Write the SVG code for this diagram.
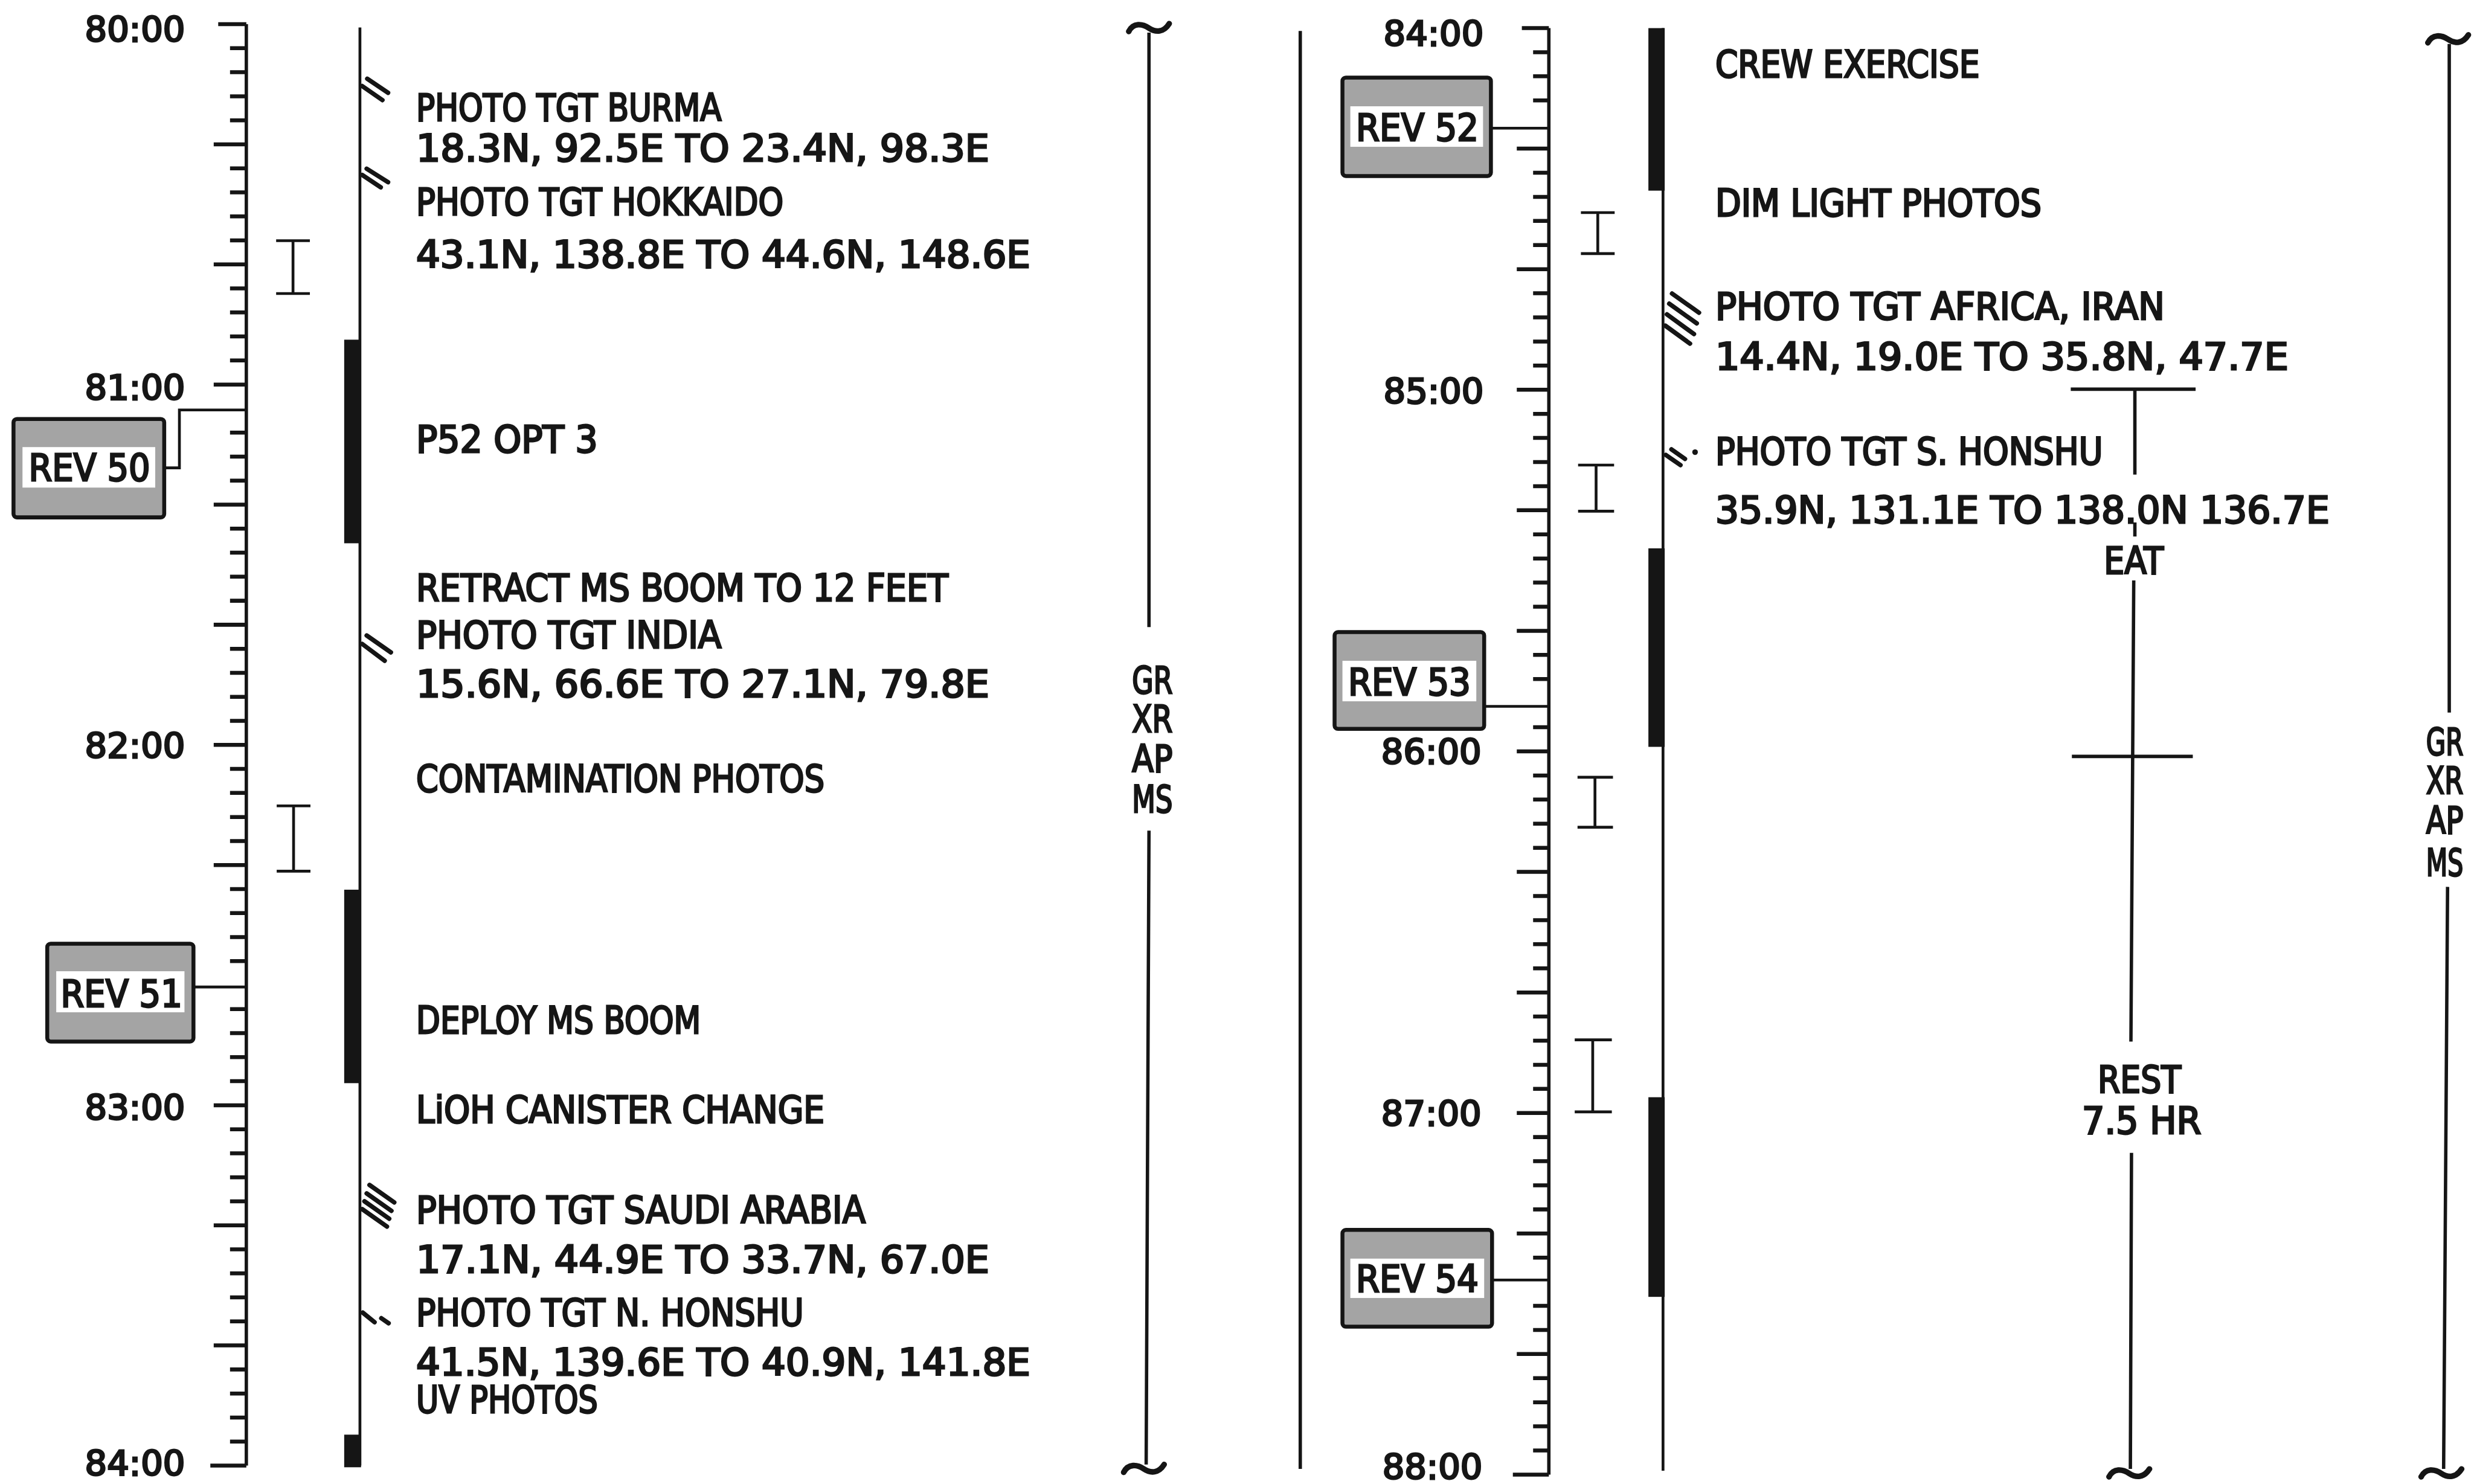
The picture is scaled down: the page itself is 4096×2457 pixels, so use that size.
<svg xmlns="http://www.w3.org/2000/svg" width="4096" height="2457" viewBox="0 0 4096 2457">
<defs>
<style>
.ln{stroke:#151515;fill:none;stroke-width:6}
.thin{stroke:#151515;fill:none;stroke-width:5}
.tk{stroke:#151515;fill:none;stroke-width:7}
.bar{fill:#151515}
.ht{stroke:#151515;stroke-width:8;stroke-linecap:round;fill:none}
.t{font-family:"DejaVu Sans Condensed","DejaVu Sans","Liberation Sans",sans-serif;font-stretch:condensed;font-weight:normal;font-size:66px;fill:#161616;stroke:#161616;stroke-width:3}
.tm{font-size:62px}
.box{fill:#a4a4a4;stroke:#151515;stroke-width:7}
.band{fill:#ffffff}
.tl{stroke:#151515;stroke-width:10;stroke-linecap:round;fill:none}
</style>
<path id="tilde" d="M-36,6 C-28,-10 -12,-8 0,0 C12,8 26,8 36,-8"/>
</defs>
<rect width="4096" height="2457" fill="#ffffff"/>
<g transform="scale(0.931121)">

<!-- LEFT PANEL -->
<g id="left-time-axis">
<path class="ln" d="M438,43V2606"/>
<path class="tk" d="M388,43H438 M409,85.7H438 M409,128.4H438 M409,171.2H438 M409,213.9H438 M380,256.6H438 M409,299.3H438 M409,342H438 M409,384.7H438 M409,427.5H438 M380,470.2H438 M409,512.9H438 M409,555.6H438 M409,598.3H438 M409,641H438 M380,683.8H438 M409,769.2H438 M409,811.9H438 M409,854.6H438 M380,897.3H438 M409,940.1H438 M409,982.8H438 M409,1025.5H438 M409,1068.2H438 M380,1110.9H438 M409,1153.6H438 M409,1196.4H438 M409,1239.1H438 M409,1281.8H438 M380,1324.5H438 M409,1367.2H438 M409,1409.9H438 M409,1452.7H438 M409,1495.4H438 M380,1538.1H438 M409,1580.8H438 M409,1623.5H438 M409,1666.2H438 M409,1709H438 M409,1794.4H438 M409,1837.1H438 M409,1879.8H438 M409,1922.5H438 M380,1965.3H438 M409,2008H438 M409,2050.7H438 M409,2093.4H438 M409,2136.1H438 M380,2178.8H438 M409,2221.6H438 M409,2264.3H438 M409,2307H438 M409,2349.7H438 M380,2392.4H438 M409,2435.1H438 M409,2477.9H438 M409,2520.6H438 M409,2563.3H438 M374,2606H438"/>
<text class="t tm" x="329" y="74" text-anchor="end" textLength="178" lengthAdjust="spacingAndGlyphs">80:00</text>
<text class="t tm" x="329" y="711" text-anchor="end" textLength="178" lengthAdjust="spacingAndGlyphs">81:00</text>
<text class="t tm" x="329" y="1348" text-anchor="end" textLength="178" lengthAdjust="spacingAndGlyphs">82:00</text>
<text class="t tm" x="329" y="1991" text-anchor="end" textLength="178" lengthAdjust="spacingAndGlyphs">83:00</text>
<text class="t tm" x="329" y="2624" text-anchor="end" textLength="178" lengthAdjust="spacingAndGlyphs">84:00</text>
</g>

<g id="rev50">
<rect class="box" x="24" y="745" width="268" height="175" rx="6"/>
<rect class="band" x="40" y="795" width="236" height="72"/>
<text class="t" x="159" y="855" text-anchor="middle" textLength="216" lengthAdjust="spacingAndGlyphs">REV 50</text>
</g>
<g id="rev51">
<rect class="box" x="84" y="1678" width="260" height="174" rx="6"/>
<rect class="band" x="100" y="1727" width="228" height="73"/>
<text class="t" x="216" y="1790" text-anchor="middle" textLength="216" lengthAdjust="spacingAndGlyphs">REV 51</text>
</g>

<g id="left-rest-marks">
<path class="thin" d="M491,428H551 M521,428V522 M491,522H551"/>
<path class="thin" d="M492,1433H552 M522,1433V1549 M492,1549H552"/>
</g>

<g id="left-activity-line">
<path class="thin" d="M640,49V2606"/>
<rect class="bar" x="612" y="604" width="30" height="362"/>
<rect class="bar" x="612" y="1582" width="30" height="344"/>
<rect class="bar" x="612" y="2551" width="30" height="58"/>
<path class="ht" d="M653,140L690,165 M644,153L680,178"/>
<path class="ht" d="M652,300L690,324 M644,311L677,333"/>
<path class="ht" d="M652,1130L695,1160 M644,1145L684,1175"/>
<path class="ht" d="M657,2107L701,2138 M652,2122L696,2153 M648,2136L692,2167 M644,2150L688,2181"/>
<path class="ht" d="M645,2334L666,2351 M678,2344L691,2353"/>
</g>

<g id="left-labels">
<text class="t" x="740" y="215" textLength="543" lengthAdjust="spacingAndGlyphs">PHOTO TGT BURMA</text>
<text class="t" x="740" y="287" textLength="1019" lengthAdjust="spacingAndGlyphs">18.3N, 92.5E TO 23.4N, 98.3E</text>
<text class="t" x="740" y="382" textLength="653" lengthAdjust="spacingAndGlyphs">PHOTO TGT HOKKAIDO</text>
<text class="t" x="740" y="476" textLength="1092" lengthAdjust="spacingAndGlyphs">43.1N, 138.8E TO 44.6N, 148.6E</text>
<text class="t" x="740" y="804" textLength="323" lengthAdjust="spacingAndGlyphs">P52 OPT 3</text>
<text class="t" x="740" y="1069" textLength="946" lengthAdjust="spacingAndGlyphs">RETRACT MS BOOM TO 12 FEET</text>
<text class="t" x="740" y="1152" textLength="543" lengthAdjust="spacingAndGlyphs">PHOTO TGT INDIA</text>
<text class="t" x="740" y="1239" textLength="1019" lengthAdjust="spacingAndGlyphs">15.6N, 66.6E TO 27.1N, 79.8E</text>
<text class="t" x="740" y="1408" textLength="726" lengthAdjust="spacingAndGlyphs">CONTAMINATION PHOTOS</text>
<text class="t" x="740" y="1838" textLength="506" lengthAdjust="spacingAndGlyphs">DEPLOY MS BOOM</text>
<text class="t" x="740" y="1996" textLength="726" lengthAdjust="spacingAndGlyphs">LiOH CANISTER CHANGE</text>
<text class="t" x="740" y="2175" textLength="799" lengthAdjust="spacingAndGlyphs">PHOTO TGT SAUDI ARABIA</text>
<text class="t" x="740" y="2263" textLength="1019" lengthAdjust="spacingAndGlyphs">17.1N, 44.9E TO 33.7N, 67.0E</text>
<text class="t" x="740" y="2357" textLength="689" lengthAdjust="spacingAndGlyphs">PHOTO TGT N. HONSHU</text>
<text class="t" x="740" y="2445" textLength="1092" lengthAdjust="spacingAndGlyphs">41.5N, 139.6E TO 40.9N, 141.8E</text>
<text class="t" x="740" y="2512" textLength="323" lengthAdjust="spacingAndGlyphs">UV PHOTOS</text>
</g>

<g id="left-bracket">
<use href="#tilde" class="tl" transform="translate(2043,50)"/>
<path class="ln" d="M2043,58V1115 M2043,1477L2038,2604"/>
<use href="#tilde" class="tl" transform="translate(2034,2612)"/>
<text class="t" x="2049" y="1233" text-anchor="middle" textLength="72" lengthAdjust="spacingAndGlyphs">GR</text>
<text class="t" x="2049" y="1302" text-anchor="middle" textLength="72" lengthAdjust="spacingAndGlyphs">XR</text>
<text class="t" x="2049" y="1373" text-anchor="middle" textLength="72" lengthAdjust="spacingAndGlyphs">AP</text>
<text class="t" x="2049" y="1445" text-anchor="middle" textLength="72" lengthAdjust="spacingAndGlyphs">MS</text>
</g>

<g id="separator">
<path class="ln" d="M2312,55V2612"/>
</g>

<!-- RIGHT PANEL -->
<g id="right-time-axis">
<path class="ln" d="M2754,50V2622"/>
<path class="tk" d="M2706,50H2754 M2726,92.9H2754 M2726,135.7H2754 M2726,178.6H2754 M2697,264.3H2754 M2726,307.2H2754 M2726,350.1H2754 M2726,392.9H2754 M2726,435.8H2754 M2697,478.7H2754 M2726,521.5H2754 M2726,564.4H2754 M2726,607.3H2754 M2726,650.1H2754 M2697,693H2754 M2726,735.9H2754 M2726,778.7H2754 M2726,821.6H2754 M2726,864.5H2754 M2697,907.3H2754 M2726,950.2H2754 M2726,993.1H2754 M2726,1035.9H2754 M2726,1078.8H2754 M2697,1121.7H2754 M2726,1164.5H2754 M2726,1207.4H2754 M2726,1293.1H2754 M2697,1336H2754 M2726,1378.9H2754 M2726,1421.7H2754 M2726,1464.6H2754 M2726,1507.5H2754 M2697,1550.3H2754 M2726,1593.2H2754 M2726,1636.1H2754 M2726,1678.9H2754 M2726,1721.8H2754 M2697,1764.7H2754 M2726,1807.5H2754 M2726,1850.4H2754 M2726,1893.3H2754 M2726,1936.1H2754 M2697,1979H2754 M2726,2021.9H2754 M2726,2064.7H2754 M2726,2107.6H2754 M2726,2150.5H2754 M2697,2193.3H2754 M2726,2236.2H2754 M2726,2321.9H2754 M2726,2364.8H2754 M2697,2407.7H2754 M2726,2450.5H2754 M2726,2493.4H2754 M2726,2536.3H2754 M2726,2579.1H2754 M2690,2622H2754"/>
<text class="t tm" x="2638" y="82" text-anchor="end" textLength="178" lengthAdjust="spacingAndGlyphs">84:00</text>
<text class="t tm" x="2638" y="717" text-anchor="end" textLength="178" lengthAdjust="spacingAndGlyphs">85:00</text>
<text class="t tm" x="2634" y="1359" text-anchor="end" textLength="178" lengthAdjust="spacingAndGlyphs">86:00</text>
<text class="t tm" x="2634" y="2002" text-anchor="end" textLength="178" lengthAdjust="spacingAndGlyphs">87:00</text>
<text class="t tm" x="2636" y="2630" text-anchor="end" textLength="178" lengthAdjust="spacingAndGlyphs">88:00</text>
</g>

<g id="rev52">
<rect class="box" x="2387" y="138" width="264" height="175" rx="6"/>
<rect class="band" x="2401" y="189" width="236" height="72"/>
<text class="t" x="2520" y="250" text-anchor="middle" textLength="218" lengthAdjust="spacingAndGlyphs">REV 52</text>
</g>
<g id="rev53">
<rect class="box" x="2373" y="1124" width="266" height="172" rx="6"/>
<rect class="band" x="2387" y="1175" width="238" height="72"/>
<text class="t" x="2506" y="1236" text-anchor="middle" textLength="218" lengthAdjust="spacingAndGlyphs">REV 53</text>
</g>
<g id="rev54">
<rect class="box" x="2387" y="2187" width="266" height="172" rx="6"/>
<rect class="band" x="2401" y="2238" width="238" height="70"/>
<text class="t" x="2520" y="2297" text-anchor="middle" textLength="218" lengthAdjust="spacingAndGlyphs">REV 54</text>
</g>

<g id="right-rest-marks">
<path class="thin" d="M2811,378H2871 M2841,378V451 M2811,451H2871"/>
<path class="thin" d="M2806,827H2870 M2838,827V909 M2806,909H2870"/>
<path class="thin" d="M2805,1382H2868 M2836,1382V1471 M2805,1471H2868"/>
<path class="thin" d="M2800,1849H2866 M2832,1849V1977 M2800,1977H2866"/>
</g>

<g id="right-activity-line">
<path class="thin" d="M2957,50V2615"/>
<rect class="bar" x="2931" y="50" width="29" height="289"/>
<rect class="bar" x="2931" y="975" width="29" height="353"/>
<rect class="bar" x="2931" y="1951" width="29" height="355"/>
<path class="ht" d="M2973,522L3021,556 M2968,540L3017,575 M2964,559L3012,594 M2961,579L3005,611"/>
<path class="ht" d="M2972,799L2996,816 M2962,809L2988,827"/>
<circle cx="3014" cy="804" r="5" fill="#151515"/>
</g>

<g id="right-labels">
<text class="t" x="3050" y="138" textLength="470" lengthAdjust="spacingAndGlyphs">CREW EXERCISE</text>
<text class="t" x="3050" y="385" textLength="580" lengthAdjust="spacingAndGlyphs">DIM LIGHT PHOTOS</text>
<text class="t" x="3050" y="568" textLength="799" lengthAdjust="spacingAndGlyphs">PHOTO TGT AFRICA, IRAN</text>
<text class="t" x="3050" y="657" textLength="1019" lengthAdjust="spacingAndGlyphs">14.4N, 19.0E TO 35.8N, 47.7E</text>
<text class="t" x="3050" y="826" textLength="689" lengthAdjust="spacingAndGlyphs">PHOTO TGT S. HONSHU</text>
<text class="t" x="3050" y="930" textLength="1092" lengthAdjust="spacingAndGlyphs">35.9N, 131.1E TO 138.0N 136.7E</text>
</g>

<g id="eat-rest-bracket">
<path class="ln" d="M3682,692H3904 M3796,692V844 M3796,929V954 M3794,1032L3789,1852 M3684,1345H3899 M3790,2050L3788,2612"/>
<use href="#tilde" class="tl" transform="translate(3786,2620)"/>
<text class="t" x="3794" y="1020" text-anchor="middle" textLength="106" lengthAdjust="spacingAndGlyphs">EAT</text>
<text class="t" x="3804" y="1943" text-anchor="middle" textLength="148" lengthAdjust="spacingAndGlyphs">REST</text>
<text class="t" x="3808" y="2016" text-anchor="middle" textLength="212" lengthAdjust="spacingAndGlyphs">7.5 HR</text>
</g>

<g id="right-bracket">
<use href="#tilde" class="tl" transform="translate(4353,70)"/>
<path class="ln" d="M4355,78V1267 M4352,1577L4345,2612"/>
<use href="#tilde" class="tl" transform="translate(4341,2620)"/>
<text class="t" x="4314" y="1342" textLength="66" lengthAdjust="spacingAndGlyphs">GR</text>
<text class="t" x="4314" y="1411" textLength="66" lengthAdjust="spacingAndGlyphs">XR</text>
<text class="t" x="4314" y="1482" textLength="66" lengthAdjust="spacingAndGlyphs">AP</text>
<text class="t" x="4314" y="1557" textLength="66" lengthAdjust="spacingAndGlyphs">MS</text>
</g>

<g id="connectors">
<path class="thin" d="M292,832H319V729H438"/>
<path class="thin" d="M344,1755H438"/>
<path class="thin" d="M2651,228H2754"/>
<path class="thin" d="M2639,1256H2754"/>
<path class="thin" d="M2653,2276H2754"/>
</g>

</g>
</svg>
